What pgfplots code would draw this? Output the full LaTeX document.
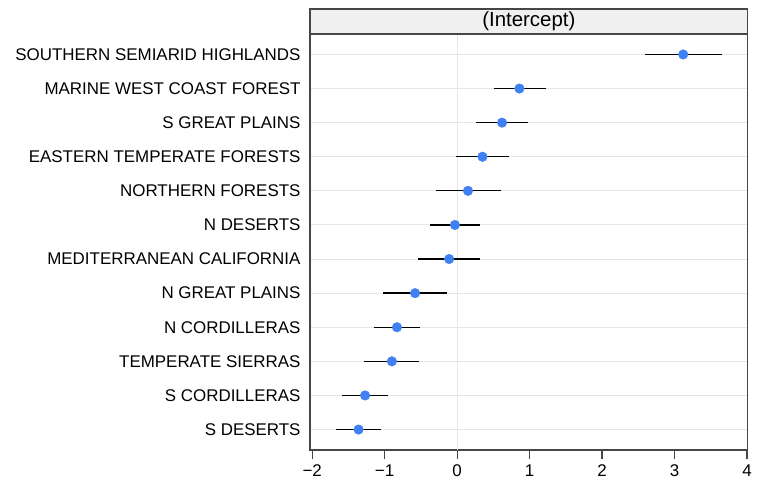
\documentclass[border=0pt]{standalone}
\usepackage{pgfplots}
\pgfplotsset{compat=1.18}
\usepackage{pgfplotstable}
\usepackage{fontspec}
\setmainfont{Liberation Sans}

\definecolor{dotblue}{RGB}{64,128,240}
\definecolor{framegray}{RGB}{70,70,70}
\definecolor{gridgray}{RGB}{230,230,230}
\definecolor{stripgray}{RGB}{240,240,240}

% row (1 = bottom), estimate, lower, upper
\pgfplotstableread{
row est lo hi
12  3.12  2.59  3.65
11  0.86  0.51  1.22
10  0.62  0.26  0.98
9   0.35 -0.01  0.71
8   0.15 -0.29  0.60
7  -0.03 -0.37  0.32
6  -0.11 -0.54  0.32
5  -0.58 -1.02 -0.14
4  -0.83 -1.14 -0.51
3  -0.90 -1.29 -0.52
2  -1.27 -1.59 -0.96
1  -1.36 -1.67 -1.05
}\coef

\begin{document}
\begin{tikzpicture}
\path[use as bounding box] (-310bp,-41bp) rectangle (447bp,450bp);
\begin{axis}[
  name=ax,
  scale only axis,
  width=437.7bp, height=416bp,
  xmin=-2.03, xmax=4.01,
  ymin=0.4, ymax=12.6,
  axis line style={framegray, line width=1.1pt},
  xtick={-2,-1,0,1,2,3,4},
  xticklabels={−2,−1,0,1,2,3,4},
  xtick pos=bottom,
  xtick align=outside,
  major tick length=9bp,
  tick style={framegray, line width=1.1pt},
  ytick={1,...,12},
  yticklabels={S DESERTS,S CORDILLERAS,TEMPERATE SIERRAS,N CORDILLERAS,N GREAT PLAINS,MEDITERRANEAN CALIFORNIA,N DESERTS,NORTHERN FORESTS,EASTERN TEMPERATE FORESTS,S GREAT PLAINS,MARINE WEST COAST FOREST,SOUTHERN SEMIARID HIGHLANDS},
  ytick style={draw=none},
  ymajorgrids,
  major grid style={gridgray, line width=1pt},
  ticklabel style={font=\fontsize{17}{19}\selectfont},
  yticklabel style={xshift=-6bp},
  xticklabel style={yshift=-2bp},
  clip=false,
]
\draw[gridgray, line width=1pt] (axis cs:0,0.4) -- (axis cs:0,12.6);
\addplot[only marks, draw=none, mark=none,
  error bars/.cd, x dir=both, x explicit, error mark=none,
  error bar style={black, line width=1.3pt}]
  table[x=est, y=row,
        x error minus expr=\thisrow{est}-\thisrow{lo},
        x error plus expr=\thisrow{hi}-\thisrow{est}]
  {\coef};
\addplot[only marks, mark=*, mark size=4.8bp, dotblue, mark options={draw=dotblue, fill=dotblue}]
  table[x=est, y=row] {\coef};
\end{axis}
\draw[framegray, line width=1.1pt, fill=stripgray]
  (ax.north west) rectangle ([yshift=25bp]ax.north east);
\node[font=\fontsize{20.5}{22}\selectfont] at ([yshift=12.5bp]ax.north) {(Intercept)};
\end{tikzpicture}
\end{document}
